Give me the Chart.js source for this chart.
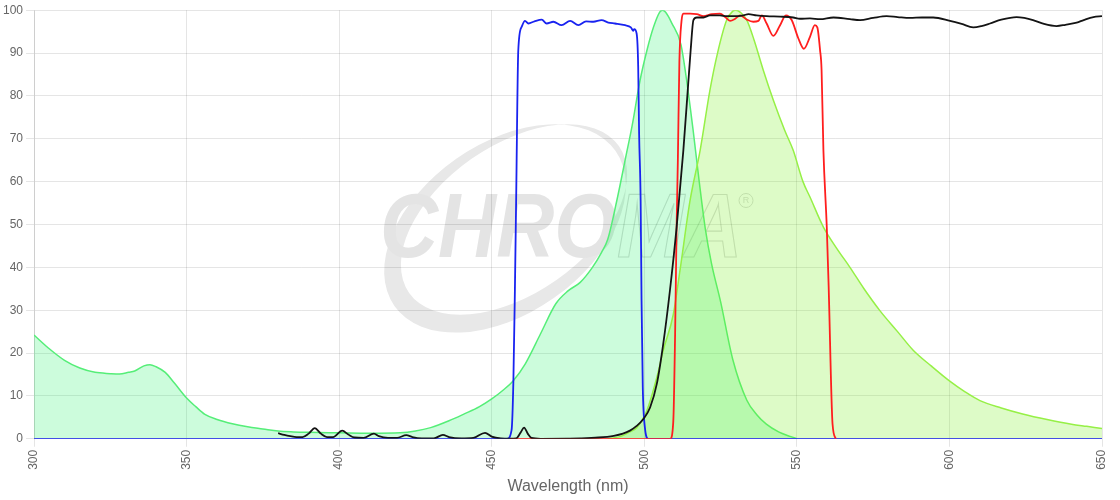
<!DOCTYPE html>
<html>
<head>
<meta charset="utf-8">
<script src="https://cdn.jsdelivr.net/npm/chart.js@4.4.1/dist/chart.umd.min.js"></script>
<style>
  html, body { margin: 0; padding: 0; background: #fff; }
  #wrap { width: 1120px; height: 500px; position: relative; }
</style>
</head>
<body>
<div id="wrap"><canvas id="c"></canvas></div>
<script>
// ---- Data (wavelength nm / % transmission or intensity) ----
const xTicks = [300, 350, 400, 450, 500, 550, 600, 650];
const yTicks = [0, 10, 20, 30, 40, 50, 60, 70, 80, 90, 100];
const xTitle = "Wavelength (nm)";

// Fluorophore excitation spectrum
const exWl  = [300,305,310,315,320,325,328,331,333,336,338,340,343,346,350,353,356,360,365,370,375,380,385,390,400,410,420,425,430,436,441,446,450,454,457,461,466,471,475,479,483,486,488,491,494,496,498.6,501,503,505,506,507,509,512,514,516,518,520,522,525,529,533.6,537,540,544,548,550];
const exVal = [24.2,21,18.3,16.5,15.5,15.2,15.1,15.5,15.8,17,17.3,16.8,15.5,13,9.5,7.5,5.7,4.5,3.5,2.8,2.3,1.8,1.6,1.5,1.4,1.3,1.4,1.8,2.6,4.2,5.8,7.5,9.3,11.5,13.5,17.5,24.5,31.5,34.5,36.5,40,43.5,46.5,55.6,66,73,83.6,91,96,99.5,100,99.5,97,92,83,72,60,49,41,32,18.5,9,5.5,3.4,1.6,0.5,0];

// Fluorophore emission spectrum
const emWl  = [488,492,495,497.5,500.8,504.1,506.2,509.5,511.7,515,518.3,521.5,524,527,529,530,531.5,533.6,536,539,542.3,546,548.8,552,554.3,558.7,563,567.4,572,577.2,583,588.2,594,600,605,610,617,624,632,640,645,650];
const emVal = [0,0.5,1.5,2.6,6.5,14.3,20.6,29,39.3,55.6,67.3,81.3,90,97.7,99.8,100,99.5,97.7,93,86,79,72,67.3,60,56.4,49.4,44.5,40,35,29.9,25,20.6,17,13.5,11,8.9,7.2,5.8,4.5,3.4,2.9,2.4];

// Excitation filter (blue)
const blWl  = [300,455,456.5,457.1,457.6,458,458.7,459.8,460.9,462,464,466.4,468,470.2,472.9,475.7,478.4,480.9,483.3,486,488.2,490.4,493.7,495.6,496.4,496.7,497.5,498,498.3,498.8,499.1,499.5,500.2,501.3,650];
const blVal = [0,0,2,13.5,35,55.6,90.6,96.1,97.5,96.9,97.4,97.8,96.9,97.3,96.5,97.5,96.5,97.4,97.3,97.7,97.1,96.9,96.5,96,95.2,95.6,94.5,86.8,71.2,55.6,32.2,12,2.6,0,0];

// Emission filter (red)
const rdWl  = [456,508.5,509.5,510.1,510.6,511,511.5,512.2,512.8,515,517.2,519.4,522.1,524.8,526.5,528.1,529.8,531.4,533.6,535.7,537.4,538.5,540.1,542.3,544.5,546.4,548.3,550.5,552.3,554.3,555.9,556.7,557.6,558.1,558.7,559.8,560.4,561.7,562.8];
const rdVal = [0,0,4,24.5,50,65,88,97.5,99.2,99.2,99.1,98.6,99.1,99.2,98.4,97.5,98,98.8,97.8,97.3,97.5,98.8,96.9,94,96.5,98.8,97.7,93.4,91,93.8,96.5,96,90.7,86,67.3,49.4,36,3.4,0];

// Dichroic mirror (black)
const bkWl  = [380,382,384,386,388,390,392,394,396,398,401,403,405,408,411.4,413,416,419,422,424,427,431,434,436,440,444,447.8,450,453,456,458,459.5,460.6,461.8,463,466,475,479,485,490,493,495.3,497.5,499.7,501.9,504.1,506.2,508.4,510.6,512.8,514.4,515.2,516.1,517.2,519.4,521.5,524.8,527,529.2,532.5,534.1,536.8,540.1,544.5,548.8,551,554.3,557.6,562,567.4,570.7,575,579.4,583,587.1,591,594.7,600.2,604,607.8,610.5,613.3,617,622,624.5,627.4,631,635.1,638,641.7,644,647.2,650];
const bkVal = [1.3,0.9,0.6,0.4,0.4,1.2,2.5,1.2,0.4,0.4,1.9,1.0,0.3,0.2,1.2,0.6,0.2,0.2,0.85,0.4,0.1,0.1,0.9,0.4,0.1,0.2,1.4,0.5,0.1,0.05,0.1,1.5,2.6,1.2,0.2,0,0.05,0.1,0.3,0.7,1.2,1.9,3,4.6,7.3,12.8,22.1,34.6,49.4,67.3,82.9,90.7,97.7,98.3,98.3,98.8,98.8,98.6,98.6,98.8,99.1,98.8,98.6,98.5,98.3,98.0,98.1,97.9,98.3,97.9,97.7,98.2,98.6,98.4,98.2,98.3,98.3,97.5,96.8,96.0,96.3,96.9,97.8,98.4,98.2,97.7,96.8,96.3,96.6,97.1,97.7,98.4,98.6];

function pts(xs, ys) { return xs.map((x, i) => ({ x: x, y: ys[i] })); }

// ---- Watermark plugin (drawn behind grid and data) ----
const watermark = {
  id: 'watermark',
  beforeDraw(chart) {
    const ctx = chart.ctx;
    const a = chart.chartArea;
    const cx = (a.left + a.right) / 2;
    const cy = (a.top + a.bottom) / 2;
    ctx.save();
    // swoosh (crescent)
    ctx.beginPath();
    ctx.ellipse(cx - 63, cy + 4, 135, 85, -35 * Math.PI / 180, 0, Math.PI * 2);
    ctx.ellipse(cx - 54, cy - 5, 128, 74, -35 * Math.PI / 180, 0, Math.PI * 2);
    ctx.fillStyle = '#e8e8e8';
    ctx.fill('evenodd');
    // text
    ctx.font = 'italic bold 90px "Liberation Sans", Arial, sans-serif';
    ctx.textBaseline = 'alphabetic';
    const full = ctx.measureText('CHROMA').width;
    const sx = 362 / full;
    ctx.translate(cx - 188, cy + 33);
    ctx.scale(sx, 1);
    ctx.fillStyle = '#e4e4e4';
    ctx.fillText('CHRO', 0, 0);
    const w1 = ctx.measureText('CHRO').width;
    ctx.strokeStyle = '#dadada';
    ctx.lineWidth = 1.2;
    ctx.strokeText('MA', w1, 0);
    ctx.setTransform(1, 0, 0, 1, 0, 0);
    ctx.restore();
    // registered mark
    ctx.save();
    ctx.strokeStyle = '#dadada';
    ctx.lineWidth = 1;
    ctx.beginPath();
    ctx.arc(cx + 178, cy - 24, 7, 0, Math.PI * 2);
    ctx.stroke();
    ctx.font = '9px "Liberation Sans", Arial, sans-serif';
    ctx.fillStyle = '#dadada';
    ctx.textAlign = 'center';
    ctx.textBaseline = 'middle';
    ctx.fillText('R', cx + 178, cy - 24);
    ctx.restore();
  }
};

const ctx = document.getElementById('c');
new Chart(ctx, {
  type: 'line',
  data: {
    datasets: [
      { label: 'Excitation', data: pts(exWl, exVal), borderColor: 'rgb(85,238,120)', backgroundColor: 'rgba(0,240,80,0.2)', fill: 'origin', borderWidth: 1.5, order: 5 },
      { label: 'Emission', data: pts(emWl, emVal), borderColor: 'rgb(150,240,70)', backgroundColor: 'rgba(120,240,30,0.25)', fill: 'origin', borderWidth: 1.5, order: 4 },
      { label: 'Exciter', data: pts(blWl, blVal), borderColor: 'rgb(25,35,240)', fill: false, borderWidth: 1.8, order: 3 },
      { label: 'Emitter', data: pts(rdWl, rdVal), borderColor: 'rgb(255,30,30)', fill: false, borderWidth: 1.8, order: 2 },
      { label: 'Dichroic', data: pts(bkWl, bkVal), borderColor: 'rgb(20,20,20)', fill: false, borderWidth: 1.8, order: 1 }
    ]
  },
  options: {
    responsive: true,
    maintainAspectRatio: false,
    animation: false,
    layout: { padding: { top: 3, right: 18, left: 0, bottom: 0 } },
    elements: {
      point: { radius: 0, hoverRadius: 0 },
      line: { tension: 0.3, cubicInterpolationMode: 'monotone' }
    },
    plugins: {
      legend: { display: false },
      tooltip: { enabled: false }
    },
    scales: {
      x: {
        type: 'linear',
        min: 300, max: 650,
        afterBuildTicks(axis) { axis.ticks = xTicks.map(v => ({ value: v })); },
        ticks: { minRotation: 90, maxRotation: 90, color: '#666', font: { size: 12 } },
        grid: { color: 'rgba(0,0,0,0.1)' },
        title: { display: true, text: xTitle, color: '#666', font: { size: 16 } }
      },
      y: {
        min: 0, max: 100,
        afterBuildTicks(axis) { axis.ticks = yTicks.map(v => ({ value: v })); },
        ticks: { color: '#666', font: { size: 12 } },
        grid: { color: 'rgba(0,0,0,0.1)' }
      }
    }
  },
  plugins: [watermark]
});
</script>
</body>
</html>
